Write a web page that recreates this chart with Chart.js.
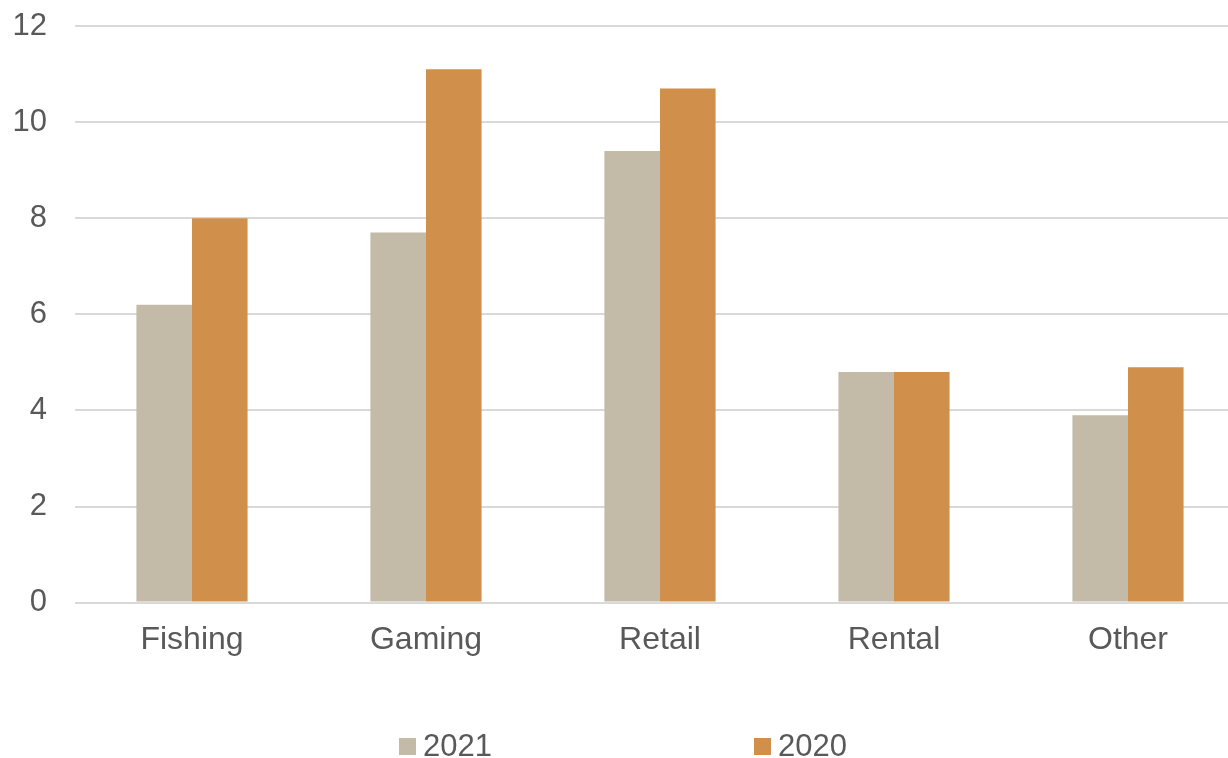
<!DOCTYPE html>
<html>
<head>
<meta charset="utf-8">
<script src="https://cdn.jsdelivr.net/npm/chart.js@4/dist/chart.umd.min.js"></script>
<style>
  html, body { margin: 0; padding: 0; background: #fff; overflow: hidden; width: 1228px; height: 758px; }
  #wrap { position: relative; width: 1228px; height: 758px; overflow: hidden; }
  canvas { position: absolute; left: 0; top: 0; }
  .leg { position: absolute; font-family: "Liberation Sans", Arial, sans-serif; font-size: 31px; color: #595959; line-height: 31px; white-space: nowrap; }
  .leg .box { position: absolute; width: 17px; height: 17px; }
  .leg .txt { position: absolute; }
</style>
</head>
<body>
<div id="wrap">
  <canvas id="c" width="1245" height="758"></canvas>
  <div id="legend"></div>
</div>
<script>
const categories = ["Fishing", "Gaming", "Retail", "Rental", "Other"];
const series2021 = [6.2, 7.7, 9.4, 4.8, 3.9];
const series2020 = [8.0, 11.1, 10.7, 4.8, 4.9];
const seriesNames = ["2021", "2020"];
const seriesColors = ["#C3BAA7", "#D18F4C"];
const yTicks = [0, 2, 4, 6, 8, 10, 12];

const FONT = "'Liberation Sans', Arial, sans-serif";
const TXT = "#595959";

new Chart(document.getElementById("c"), {
  type: "bar",
  data: {
    labels: categories,
    datasets: [
      { label: seriesNames[0], data: series2021, backgroundColor: seriesColors[0], borderWidth: 0 },
      { label: seriesNames[1], data: series2020, backgroundColor: seriesColors[1], borderWidth: 0 }
    ]
  },
  options: {
    responsive: false,
    animation: false,
    devicePixelRatio: 1,
    layout: { padding: { top: 26, bottom: 81, left: 0, right: 0 } },
    plugins: { legend: { display: false }, tooltip: { enabled: false } },
    datasets: { bar: { categoryPercentage: 0.475, barPercentage: 1.0 } },
    scales: {
      x: {
        grid: { display: false, drawTicks: false },
        border: { display: false },
        ticks: { color: TXT, font: { family: FONT, size: 32 }, padding: 18, maxRotation: 0 }
      },
      y: {
        min: 0, max: 12,
        afterFit: (s) => { s.width = 75; },
        afterBuildTicks: (s) => { s.ticks = yTicks.map(v => ({ value: v })); },
        grid: { color: "#D9D9D9", lineWidth: 2, drawTicks: true, tickLength: 28, tickColor: "rgba(0,0,0,0)" },
        border: { display: false },
        ticks: { color: TXT, font: { family: FONT, size: 31 }, padding: 0 }
      }
    }
  }
});

// HTML legend
const legend = document.getElementById("legend");
const legendX = [399, 754];
seriesNames.forEach((name, i) => {
  const d = document.createElement("div");
  d.className = "leg";
  d.style.left = legendX[i] + "px";
  d.style.top = "730px";
  const b = document.createElement("span");
  b.className = "box";
  b.style.left = "0px"; b.style.top = "8px";
  b.style.background = seriesColors[i];
  const t = document.createElement("span");
  t.className = "txt";
  t.style.left = "24px"; t.style.top = "0px";
  t.textContent = name;
  d.appendChild(b); d.appendChild(t);
  legend.appendChild(d);
});
</script>
</body>
</html>
